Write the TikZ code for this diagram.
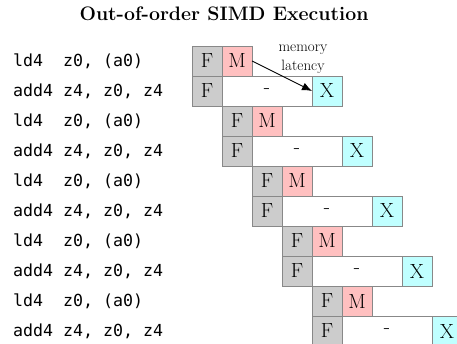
\documentclass[tikz,border=0pt]{standalone}
\usepackage{fontspec}
\setmonofont{DejaVu Sans Mono}
\usetikzlibrary{arrows.meta}
\definecolor{fgray}{HTML}{CCCCCC}
\definecolor{bgray}{HTML}{888888}
\definecolor{mpink}{HTML}{FFC0C0}
\definecolor{xcyan}{HTML}{C0FFFF}
\tikzset{
  cell/.style={draw=bgray, line width=0.9pt, minimum width=30pt, minimum height=30pt, inner sep=0pt, outer sep=0pt, font=\fontsize{20.5}{20.5}\selectfont},
  fcell/.style={cell, fill=fgray},
  mcell/.style={cell, fill=mpink},
  xcell/.style={cell, fill=xcyan},
  wcell/.style={cell, fill=white, minimum width=90pt},
  code/.style={anchor=west, inner sep=0pt, font=\fontsize{16.6}{16.6}\selectfont\ttfamily},
}
\begin{document}
\begin{tikzpicture}[x=1pt,y=-1pt]
\useasboundingbox (0,0) rectangle (457,344);
\node[font=\fontsize{19.5}{19.5}\selectfont\bfseries] (title) at (224,14) {Out-of-order SIMD Execution};
\foreach \k in {0,...,4}{
  \pgfmathsetmacro{\xo}{192+30*\k}
  \pgfmathsetmacro{\yo}{46+60*\k}
  \node[code] (ld\k) at (13,\yo+15) {ld4\ \ z0, (a0)};
  \node[code] (add\k) at (13,\yo+45) {add4 z4, z0, z4};
  \node[wcell] (w\k) at (\xo+75,\yo+45) {-};
  \node[fcell] (fa\k) at (\xo+15,\yo+15) {F};
  \node[mcell] (m\k) at (\xo+45,\yo+15) {M};
  \node[fcell] (fb\k) at (\xo+15,\yo+45) {F};
  \node[xcell] (x\k) at (\xo+135,\yo+45) {X};
}
\node[align=center, inner sep=0pt, font=\fontsize{15}{19}\selectfont] (lat) at (303,59) {memory\\latency};
\draw[line width=0.9pt, -{Latex[length=10pt,width=8pt]}] (m0.east) -- (x0.west);
\end{tikzpicture}
\end{document}
